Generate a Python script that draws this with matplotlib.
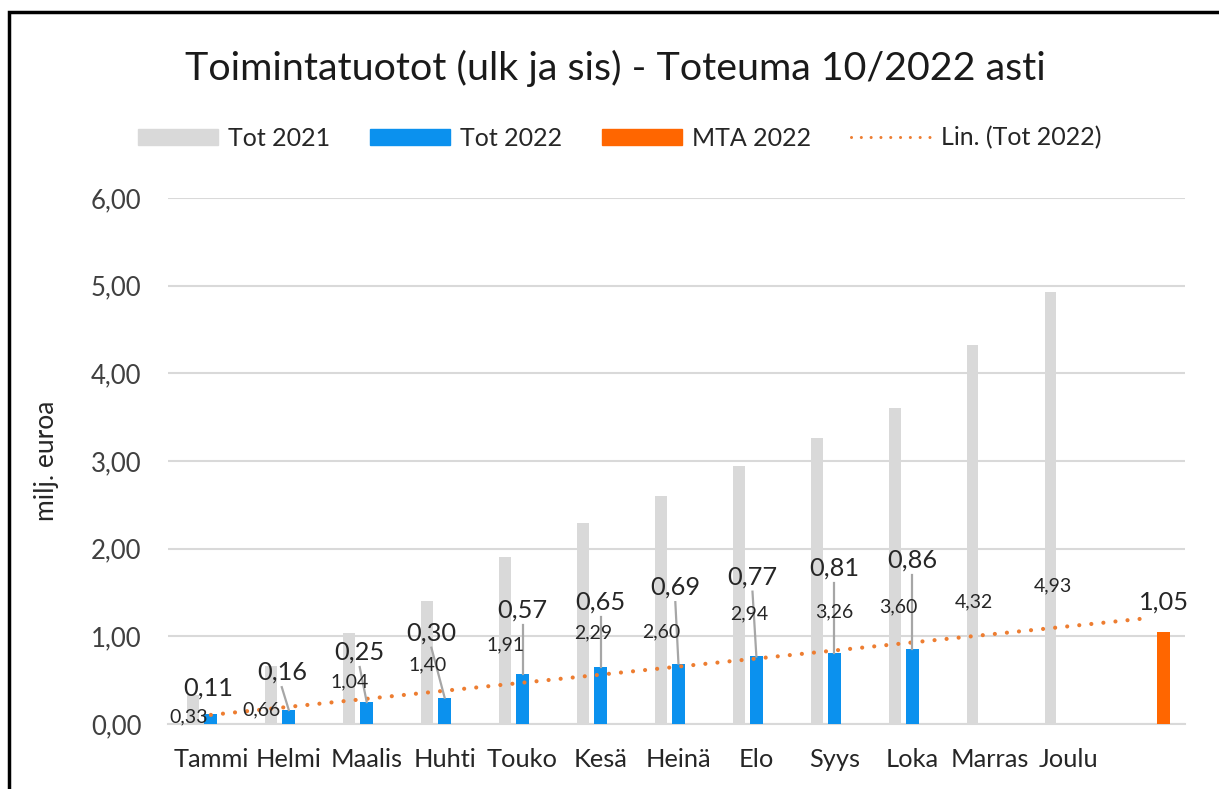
import matplotlib
matplotlib.use("Agg")
import matplotlib.pyplot as plt
from matplotlib.patches import Rectangle
from matplotlib.lines import Line2D
import numpy as np

plt.rcParams['font.family'] = ['Lato', 'DejaVu Sans']

# ---- data ----
categories = ["Tammi", "Helmi", "Maalis", "Huhti", "Touko", "Kesä", "Heinä",
              "Elo", "Syys", "Loka", "Marras", "Joulu", ""]
tot_2021 = [0.33, 0.66, 1.04, 1.40, 1.91, 2.29, 2.60, 2.94, 3.26, 3.60, 4.32, 4.93]
tot_2022 = [0.11, 0.16, 0.25, 0.30, 0.57, 0.65, 0.69, 0.77, 0.81, 0.86]
mta_2022 = 1.05
mta_index = 12
yticks = [0, 1, 2, 3, 4, 5, 6]

# label placements (layout, in axis units)
lbl21_dx = [-0.06, -0.13, 0.0, 0.01, 0.01, 0.13, 0.0, 0.13, 0.22, 0.05, 0.01, 0.03]
lbl21_y = [0.08, 0.16, 0.48, 0.67, 0.90, 1.04, 1.05, 1.26, 1.28, 1.34, 1.39, 1.58]
lbl22_dx = [-0.04, -0.09, -0.09, -0.17, 0.0, 0.0, -0.04, -0.05, 0.0, 0.0]
lbl22_y = [0.41, 0.59, 0.82, 1.04, 1.30, 1.39, 1.56, 1.68, 1.78, 1.87]
lbl_mta_y = 1.39

def fi(v):
    return f"{v:.2f}".replace(".", ",")

W, H = 1219, 789
fig = plt.figure(figsize=(W / 100, H / 100), dpi=100)
fig.patch.set_facecolor("white")

ax = fig.add_axes([168 / W, 1 - 724 / H, (1185 - 168) / W, (724 - 198) / H])

gray = "#d9d9d9"
blue = "#0b91ee"
orange = "#ff6600"
trend = "#ed7d31"
off = 0.225

x = np.arange(len(categories))
x21 = x[:len(tot_2021)] - off
x22 = x[:len(tot_2022)]
ax.bar(x21, tot_2021, width=0.15, color=gray, zorder=2, label="Tot 2021")
ax.bar(x22, tot_2022, width=0.17, color=blue, zorder=3, label="Tot 2022")
ax.bar([mta_index + off], [mta_2022], width=0.17, color=orange, zorder=3, label="MTA 2022")

# linear trendline of Tot 2022, forecast to last category
xf = np.arange(1, len(tot_2022) + 1)
coef = np.polyfit(xf, tot_2022, 1)
xt = np.arange(1, len(categories) + 1)
ax.plot(xt - 1, np.polyval(coef, xt), linestyle=(0, (0.01, 2.9)), color=trend,
        linewidth=3.0, dash_capstyle="round", zorder=4, label="Lin. (Tot 2022)")

# gray labels
for xi, v, dx, ly in zip(x21, tot_2021, lbl21_dx, lbl21_y):
    ax.text(xi + dx, ly, fi(v), ha="center", va="center", fontsize=14,
            color="#262626", zorder=6)

# blue labels with leader lines
for xi, v, dx, ly in zip(x22, tot_2022, lbl22_dx, lbl22_y):
    lx = xi + dx
    if ly - 0.17 - v > 0.15:
        ax.plot([lx, xi], [ly - 0.17, v], color="#a6a6a6", linewidth=1.6, zorder=5)
    ax.text(lx, ly, fi(v), ha="center", va="center", fontsize=18.3,
            color="#262626", zorder=6)
ax.text(mta_index + off, lbl_mta_y, fi(mta_2022), ha="center", va="center",
        fontsize=18.3, color="#262626", zorder=6)

ax.set_xlim(-0.55, 12.5)
ax.set_ylim(0, 6)
ax.set_yticks(yticks)
ax.set_yticklabels([fi(t) for t in yticks])
ax.set_xticks(x)
ax.set_xticklabels(categories)
ax.tick_params(axis="y", length=0, pad=19, labelsize=18.5, labelcolor="#404040")
ax.tick_params(axis="x", length=0, pad=17, labelsize=18.3, labelcolor="#262626")
ax.grid(axis="y", color=gray, linewidth=1.5, zorder=0)
ax.set_axisbelow(True)
for s in ["top", "right", "left"]:
    ax.spines[s].set_visible(False)
ax.spines["bottom"].set_color(gray)
ax.spines["bottom"].set_linewidth(1.5)
ax.set_ylabel("milj. euroa", fontsize=19, color="#262626")
ax.yaxis.set_label_coords(-0.107, 0.5)

fig.text(615 / W, 1 - 68 / H, "Toimintatuotot (ulk ja sis) - Toteuma 10/2022 asti",
         ha="center", va="center", fontsize=28.4, color="#1a1a1a")

handles = [Rectangle((0, 0), 1, 1, color=gray), Rectangle((0, 0), 1, 1, color=blue),
           Rectangle((0, 0), 1, 1, color=orange),
           Line2D([], [], linestyle=(0, (0.01, 3.2)), color=trend, linewidth=2.2,
                  dash_capstyle="round")]
labels = ["Tot 2021", "Tot 2022", "MTA 2022", "Lin. (Tot 2022)"]
fig.legend(handles, labels, loc="center", bbox_to_anchor=(620 / W, 1 - 138 / H),
           ncol=4, frameon=False, fontsize=18, handlelength=3.2, handleheight=0.6,
           handletextpad=0.4, columnspacing=1.6, labelcolor="#262626")

# outer frame
fig.add_artist(Rectangle((9 / W, -0.05), 1.1, 1 - 12 / H + 0.05, transform=fig.transFigure,
                         fill=False, edgecolor="black", linewidth=2.5))

fig.savefig("out.png", dpi=100)
